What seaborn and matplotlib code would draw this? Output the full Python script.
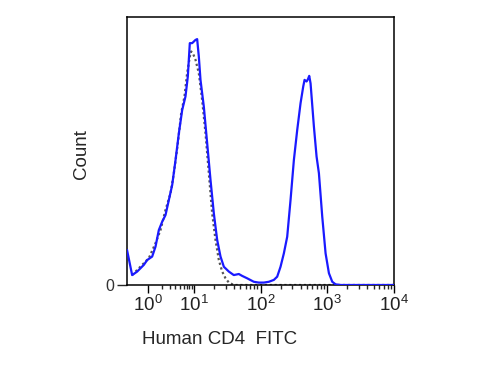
import matplotlib
matplotlib.use("Agg")
import matplotlib.pyplot as plt
import numpy as np
import pandas as pd
import seaborn as sns

# --- Data: x in display decades (biexponential-like axis), y in % of max count ---
stained_x = [0.0, 0.077, 0.152, 0.252, 0.302, 0.377, 0.427, 0.477, 0.527, 0.577,
             0.627, 0.677, 0.727, 0.777, 0.827, 0.876, 0.911, 0.941, 0.976, 1.001,
             1.026, 1.051, 1.076, 1.101, 1.151, 1.201, 1.251, 1.301, 1.351, 1.401,
             1.451, 1.526, 1.600, 1.675, 1.725, 1.800, 1.900, 1.975, 2.050, 2.125,
             2.200, 2.250, 2.300, 2.350, 2.400, 2.450, 2.500, 2.550, 2.600, 2.640,
             2.660, 2.690, 2.710, 2.730, 2.750, 2.800, 2.840, 2.875, 2.925, 2.975,
             3.025, 3.075, 3.125, 3.200, 4.000]
stained_y = [13.1, 3.7, 5.0, 7.5, 9.3, 10.6, 14.3, 20.5, 23.6, 26.1,
             31.7, 37.3, 46.6, 56.6, 65.3, 70.3, 77.7, 90.2, 90.2, 90.8,
             91.4, 91.7, 85.2, 76.5, 66.5, 52.9, 39.2, 26.7, 16.8, 10.6,
             6.8, 5.0, 3.7, 4.1, 3.4, 2.5, 1.2, 0.9, 0.9, 1.2,
             1.9, 3.1, 6.8, 11.8, 18.0, 31.7, 46.6, 57.8, 67.8, 74.0,
             76.5, 75.9, 76.7, 78.0, 75.2, 59.1, 47.9, 41.7, 25.5, 11.8,
             4.4, 1.2, 0.25, 0.0, 0.0]

control_x = [0.077, 0.327, 0.427, 0.502, 0.577, 0.652, 0.702, 0.762, 0.812, 0.861,
             0.901, 0.941, 0.961, 0.991, 1.026, 1.076, 1.126, 1.176, 1.226, 1.276,
             1.326, 1.376, 1.426, 1.476, 1.526, 1.600, 4.000]
control_y = [3.7, 10.0, 15.6, 20.5, 28.0, 34.2, 41.7, 52.9, 64.1, 70.3,
             79.0, 85.2, 87.1, 86.2, 84.0, 79.0, 69.0, 56.6, 41.7, 26.7,
             16.8, 9.3, 5.0, 2.5, 0.9, 0.0, 0.0]

# axis ticks (position in display decades -> label)
major_pos = [0.31, 1, 2, 3, 4]
major_labels = ["$10^{0}$", "$10^{1}$", "$10^{2}$", "$10^{3}$", "$10^{4}$"]

# ─── Style ────────────────────────────────────────────────────────
sns.set_style("ticks")
plt.rcParams["font.family"] = ["Liberation Sans", "DejaVu Sans"]
plt.rcParams["mathtext.fontset"] = "custom"
plt.rcParams["mathtext.rm"] = "Liberation Sans"
plt.rcParams["mathtext.it"] = "Liberation Sans"

df_s = pd.DataFrame({"x": stained_x, "y": stained_y})
df_c = pd.DataFrame({"x": control_x, "y": control_y})

fig = plt.figure(figsize=(5, 3.75), dpi=100)
ax = fig.add_axes([0.254, 0.24, 0.534, 0.715])

sns.lineplot(data=df_c, x="x", y="y", ax=ax, color="#555555",
             linestyle=(0, (1, 1.2)), linewidth=1.6, sort=False, zorder=2)
sns.lineplot(data=df_s, x="x", y="y", ax=ax, color="#1a1aff",
             linewidth=1.6, sort=False, zorder=3)

ax.set_xlim(0, 4)
ax.set_ylim(0, 100)

# minor ticks: compressed first decade, log spacing above
minor = [0.31 + np.log10(k) * 0.69 for k in range(2, 10)]
for d in (1, 2, 3):
    minor += [d + np.log10(k) for k in range(2, 10)]

ax.set_xticks(major_pos)
ax.set_xticklabels(major_labels, fontsize=13.5, color="#222222")
ax.set_xticks(minor, minor=True)
ax.set_yticks([0])
ax.set_yticklabels(["0"], fontsize=11.5, color="#333333")
ax.tick_params(axis="x", which="major", length=6, width=1, pad=1, colors="black")
ax.tick_params(axis="x", which="minor", length=3, width=1)
ax.tick_params(axis="y", length=7, width=1, pad=2)
for lab in ax.get_xticklabels():
    lab.set_color("#222222")

for s in ax.spines.values():
    s.set_linewidth(1.1)
    s.set_color("black")

ax.set_xlabel("")
ax.set_ylabel("Count", fontsize=13.5)
ax.yaxis.set_label_coords(-0.14, 0.49)
ax.text(0.345, -0.205, "Human CD4  FITC", transform=ax.transAxes,
        ha="center", va="center", fontsize=13.5)

fig.savefig("out.png", dpi=100)
